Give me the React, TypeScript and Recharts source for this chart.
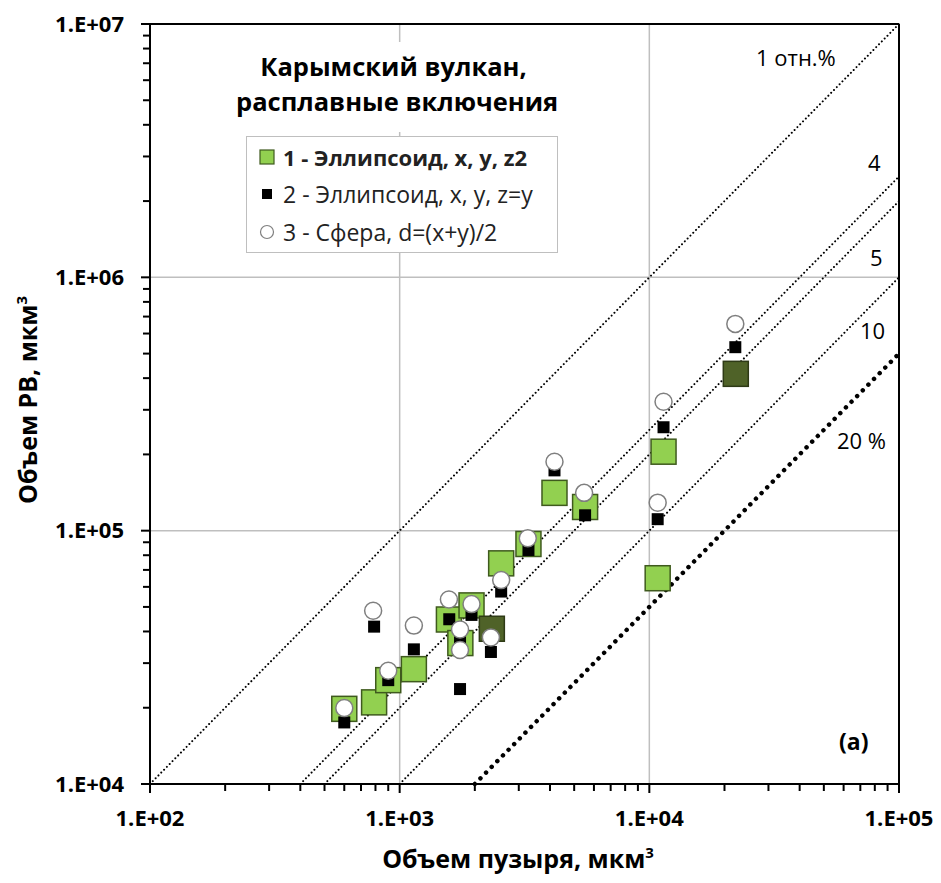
import {
  ScatterChart,
  Scatter,
  XAxis,
  YAxis,
  ReferenceLine,
} from 'recharts';

// Объем пузыря (x) vs объем РВ (y), мкм³
const ellipsoidZ2 = [
  { x: 600, y: 19800 },
  { x: 790, y: 21000 },
  { x: 900, y: 25700 },
  { x: 1140, y: 28400 },
  { x: 1575, y: 44600 },
  { x: 1940, y: 50700 },
  { x: 1750, y: 36000 },
  { x: 2550, y: 74300 },
  { x: 3280, y: 88600 },
  { x: 4170, y: 141000 },
  { x: 5530, y: 124000 },
  { x: 11400, y: 205000 },
  { x: 10800, y: 64900 },
];

const ellipsoidZ2Dark = [
  { x: 2340, y: 41000 },
  { x: 22200, y: 416000 },
];

const ellipsoidZy = [
  { x: 600, y: 17500 },
  { x: 790, y: 41800 },
  { x: 900, y: 25700 },
  { x: 1140, y: 34000 },
  { x: 1745, y: 23700 },
  { x: 1580, y: 44700 },
  { x: 1940, y: 46500 },
  { x: 1745, y: 37400 },
  { x: 2320, y: 33200 },
  { x: 2550, y: 57500 },
  { x: 3280, y: 83900 },
  { x: 4170, y: 173000 },
  { x: 5530, y: 115000 },
  { x: 10800, y: 111000 },
  { x: 11400, y: 256000 },
  { x: 22100, y: 530000 },
];

const sphere = [
  { x: 600, y: 19950 },
  { x: 783, y: 48300 },
  { x: 900, y: 28000 },
  { x: 1140, y: 42200 },
  { x: 1575, y: 53500 },
  { x: 1940, y: 51300 },
  { x: 1745, y: 40700 },
  { x: 1745, y: 33800 },
  { x: 2320, y: 37900 },
  { x: 2550, y: 63900 },
  { x: 3260, y: 93300 },
  { x: 4170, y: 187000 },
  { x: 5480, y: 141000 },
  { x: 10800, y: 129000 },
  { x: 11400, y: 323000 },
  { x: 22100, y: 655000 },
];

// relative-error lines: y = x * 100 / p
const ratioPercents = [1, 4, 5, 10, 20];
const ratioLabels = ['1 отн.%', '4', '5', '10', '20 %'];

const xMajor = [100, 1000, 10000, 100000];
const xMajorLabels = ['1.E+02', '1.E+03', '1.E+04', '1.E+05'];
const yMajor = [10000, 100000, 1000000, 10000000];
const yMajorLabels = ['1.E+04', '1.E+05', '1.E+06', '1.E+07'];

const X_MIN = 100;
const X_MAX = 100000;
const Y_MIN = 10000;
const Y_MAX = 10000000;

const FONT = '"Open Sans", "Noto Sans", sans-serif';

function withMinors(majors: number[]) {
  const out: number[] = [];
  for (let i = 0; i < majors.length - 1; i++) {
    for (let m = 1; m <= 9; m++) out.push(majors[i] * m);
  }
  out.push(majors[majors.length - 1]);
  return out;
}

const xTicks = withMinors(xMajor);
const yTicks = withMinors(yMajor);

const XTick = (props: any) => {
  const { x, y, payload } = props;
  const i = xMajor.indexOf(payload.value);
  const major = i >= 0;
  return (
    <g>
      <line x1={x} x2={x} y1={y} y2={y + (major ? 9 : 7)} stroke="#000" strokeWidth={2} />
      {major && (
        <text
          x={x}
          y={y + 34}
          dy="0.35em"
          textAnchor="middle"
          fontFamily={FONT}
          fontWeight={700}
          fontSize={22}
          fill="#000"
        >
          {xMajorLabels[i]}
        </text>
      )}
    </g>
  );
};

const YTick = (props: any) => {
  const { x, y, payload } = props;
  const i = yMajor.indexOf(payload.value);
  const major = i >= 0;
  return (
    <g>
      <line x1={x - (major ? 9 : 7)} x2={x} y1={y} y2={y} stroke="#000" strokeWidth={2} />
      {major && (
        <text
          x={x - 26}
          y={y}
          dy="0.35em"
          textAnchor="end"
          fontFamily={FONT}
          fontWeight={700}
          fontSize={22}
          fill="#000"
        >
          {yMajorLabels[i]}
        </text>
      )}
    </g>
  );
};

const bigSquare = (fill: string, stroke: string) => (props: any) => (
  <rect
    x={props.cx - 12.5}
    y={props.cy - 12.5}
    width={25}
    height={25}
    fill={fill}
    stroke={stroke}
    strokeWidth={1.5}
  />
);

const smallSquare = (props: any) => (
  <rect x={props.cx - 6} y={props.cy - 6} width={12} height={12} fill="#000" />
);

const circle = (props: any) => (
  <circle cx={props.cx} cy={props.cy} r={8.5} fill="#fff" stroke="#7f7f7f" strokeWidth={1.5} />
);

const textStyle: React.CSSProperties = {
  position: 'absolute',
  fontFamily: FONT,
  color: '#000',
  whiteSpace: 'nowrap',
  lineHeight: 1,
};

export default function App() {
  return (
    <div style={{ position: 'absolute', left: 0, top: 0, width: 941, height: 883, background: '#fff' }}>
      <ScatterChart
        width={941}
        height={883}
        margin={{ top: 24, right: 42, left: 0, bottom: 0 }}
      >
        <XAxis
          type="number"
          dataKey="x"
          scale="log"
          domain={[X_MIN, X_MAX]}
          allowDataOverflow
          ticks={xTicks}
          interval={0}
          tick={<XTick />}
          tickLine={false}
          tickSize={0}
          tickMargin={0}
          height={99}
          axisLine={{ stroke: '#000', strokeWidth: 2 }}
        />
        <YAxis
          type="number"
          dataKey="y"
          scale="log"
          domain={[Y_MIN, Y_MAX]}
          allowDataOverflow
          ticks={yTicks}
          interval={0}
          tick={<YTick />}
          tickLine={false}
          tickSize={0}
          tickMargin={0}
          width={150}
          axisLine={{ stroke: '#000', strokeWidth: 2 }}
        />
        {[1000, 10000].map((v) => (
          <ReferenceLine key={`gx${v}`} x={v} stroke="#bfbfbf" strokeWidth={1.5} />
        ))}
        {[100000, 1000000].map((v) => (
          <ReferenceLine key={`gy${v}`} y={v} stroke="#bfbfbf" strokeWidth={1.5} />
        ))}
        <ReferenceLine y={Y_MAX} stroke="#000" strokeWidth={2} />
        <ReferenceLine x={X_MAX} stroke="#000" strokeWidth={2} />
        {ratioPercents.map((p) => {
          const k = 100 / p;
          const bold = p === 20;
          return (
            <ReferenceLine
              key={`r${p}`}
              ifOverflow="visible"
              segment={[
                { x: Y_MIN / k, y: Y_MIN },
                { x: X_MAX, y: X_MAX * k },
              ]}
              stroke="#000"
              strokeWidth={bold ? 4.5 : 2}
              strokeLinecap="round"
              strokeDasharray={bold ? '0.01 8' : '0.01 4'}
            />
          );
        })}
        <Scatter data={ellipsoidZ2} shape={bigSquare('#92d050', '#3f5a1e')} isAnimationActive={false} />
        <Scatter data={ellipsoidZ2Dark} shape={bigSquare('#4f6228', '#2e3a16')} isAnimationActive={false} />
        <Scatter data={ellipsoidZy} shape={smallSquare} isAnimationActive={false} />
        <Scatter data={sphere} shape={circle} isAnimationActive={false} />
      </ScatterChart>

      {/* title */}
      <div
        style={{
          ...textStyle,
          left: 236,
          top: 42,
          width: 315,
          height: 90,
          background: '#fff',
          textAlign: 'center',
          fontWeight: 700,
          fontSize: 25.5,
          lineHeight: '35px',
          paddingTop: 7,
          boxSizing: 'border-box',
        }}
      >
        Карымский вулкан,
        <br />
        расплавные включения
      </div>

      {/* legend */}
      <div
        style={{
          position: 'absolute',
          left: 246,
          top: 136,
          width: 310,
          height: 115,
          background: '#fff',
          border: '1.5px solid #bfbfbf',
          fontFamily: FONT,
          fontSize: 23,
          color: '#222',
        }}
      >
        <div style={{ position: 'absolute', left: 12, top: 5, display: 'flex', alignItems: 'center', fontWeight: 700, fontSize: 22 }}>
          <svg width={16} height={16} style={{ marginRight: 8 }}>
            <rect x={1} y={1} width={14} height={14} fill="#92d050" stroke="#3f5a1e" strokeWidth={1.2} />
          </svg>
          1 - Эллипсоид, x, y, z2
        </div>
        <div style={{ position: 'absolute', left: 12, top: 41, display: 'flex', alignItems: 'center' }}>
          <svg width={16} height={16} style={{ marginRight: 8 }}>
            <rect x={3} y={3} width={10} height={10} fill="#000" />
          </svg>
          2 - Эллипсоид, x, y, z=y
        </div>
        <div style={{ position: 'absolute', left: 12, top: 79, display: 'flex', alignItems: 'center' }}>
          <svg width={16} height={16} style={{ marginRight: 8 }}>
            <circle cx={8} cy={8} r={6.5} fill="#fff" stroke="#7f7f7f" strokeWidth={1.2} />
          </svg>
          3 - Сфера, d=(x+y)/2
        </div>
      </div>

      {/* ratio line labels */}
      <div style={{ ...textStyle, left: 756, top: 46, fontSize: 22 }}>{ratioLabels[0]}</div>
      <div style={{ ...textStyle, left: 868, top: 151, fontSize: 22 }}>{ratioLabels[1]}</div>
      <div style={{ ...textStyle, left: 870, top: 246, fontSize: 22 }}>{ratioLabels[2]}</div>
      <div style={{ ...textStyle, left: 860, top: 319, fontSize: 22 }}>{ratioLabels[3]}</div>
      <div style={{ ...textStyle, left: 837, top: 429, fontSize: 22 }}>{ratioLabels[4]}</div>

      <div style={{ ...textStyle, left: 839, top: 730, fontSize: 23, fontWeight: 700 }}>(a)</div>

      {/* axis titles */}
      <div
        style={{
          ...textStyle,
          left: 518,
          top: 858,
          transform: 'translate(-50%, -50%)',
          fontSize: 25,
          fontWeight: 700,
        }}
      >
        Объем пузыря, мкм<sup style={{ fontSize: 15 }}>3</sup>
      </div>
      <div
        style={{
          ...textStyle,
          left: 27,
          top: 400,
          transform: 'translate(-50%, -50%) rotate(-90deg)',
          fontSize: 25,
          fontWeight: 700,
        }}
      >
        Объем РВ, мкм<sup style={{ fontSize: 15 }}>3</sup>
      </div>
    </div>
  );
}
